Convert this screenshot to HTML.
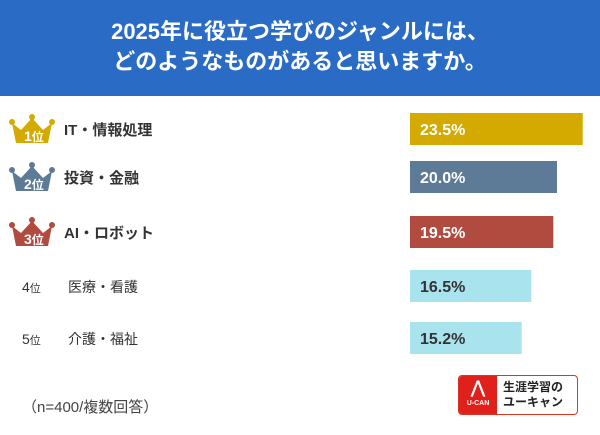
<!DOCTYPE html>
<html><head><meta charset="utf-8"><style>
body{margin:0;width:600px;height:435px;background:#fff;font-family:"Liberation Sans","Noto Sans CJK JP",sans-serif;overflow:hidden;position:relative}
.hdr{position:absolute;left:0;top:0;width:600px;height:96px;background:#2a6bc6;color:#fff;font-weight:bold;font-size:22px;text-align:center;line-height:30px;padding-top:17px;box-sizing:border-box}
.lbl{position:absolute;font-size:15px;color:#333;font-weight:bold}
.lbl.n{font-weight:normal;font-size:14px}
.rk{position:absolute;font-size:13px;color:#333}
.note{position:absolute;left:22px;top:396px;font-size:15px;color:#444}
.logo{position:absolute;left:458px;top:375px;width:120px;height:40px;border:1.5px solid #d32;border-radius:4px;box-sizing:border-box;overflow:hidden}
</style></head><body>
<div class="hdr">2025年に役立つ学びのジャンルには、<br>どのようなものがあると思いますか。</div>
<svg id="chart" width="600" height="435" style="position:absolute;left:0;top:0"></svg>
<div class="note">（n=400/複数回答）</div>
<div class="logo">
<div style="position:absolute;left:0;top:0;width:38px;height:40px;background:#e0201b;color:#fff;font-size:7px;font-weight:bold;text-align:center">
<div style="font-size:17px;line-height:24px">⋀</div>U-CAN</div>
<div style="position:absolute;left:44px;top:4px;font-size:12px;font-weight:bold;color:#222;line-height:15px">生涯学習の<br>ユーキャン</div>
</div>
<script>
const categories=["IT・情報処理","投資・金融","AI・ロボット","医療・看護","介護・福祉"];
const values=[23.5,20.0,19.5,16.5,15.2];
const valueLabels=["23.5%","20.0%","19.5%","16.5%","15.2%"];
const ranks=["1","2","3","4","5"];
const colors=["#d4aa00","#5d7a96","#b24b3f","#a9e3ee","#a9e3ee"];
const rowY=[113,161,216,270,322];
const svg=document.getElementById('chart');
const NS="http://www.w3.org/2000/svg";
const x0=410,scale=7.35,bh=32;
function xw(v){return v*scale;}
values.forEach((v,i)=>{
 const r=document.createElementNS(NS,'rect');
 r.setAttribute('x',x0);r.setAttribute('y',rowY[i]);r.setAttribute('width',xw(v));r.setAttribute('height',bh);r.setAttribute('fill',colors[i]);
 
 
 svg.appendChild(r);
 const t=document.createElementNS(NS,'text');
 t.setAttribute('x',x0+10);t.setAttribute('y',rowY[i]+22);t.setAttribute('font-size','16');t.setAttribute('font-weight','bold');
 t.setAttribute('fill',i<3?'#fff':'#333');t.textContent=valueLabels[i];
 
 
 svg.appendChild(t);
 const cy=rowY[i]+bh/2;
 if(i<3){
  const g=document.createElementNS(NS,'g');
  
  
  const p=document.createElementNS(NS,'path');
  const bx=12,by=cy-14;
  p.setAttribute('d',`M${bx} ${by+8} L${bx+9} ${by+15} L${bx+20} ${by+3} L${bx+31} ${by+15} L${bx+40} ${by+8} L${bx+36} ${by+28} L${bx+4} ${by+28} Z`);
  p.setAttribute('fill',colors[i]);g.appendChild(p);
  [[bx,by+7],[bx+20,by+2],[bx+40,by+7]].forEach(c=>{const ci=document.createElementNS(NS,'circle');ci.setAttribute('cx',c[0]);ci.setAttribute('cy',c[1]);ci.setAttribute('r',3);ci.setAttribute('fill',colors[i]);g.appendChild(ci);});
  const tt=document.createElementNS(NS,'text');tt.setAttribute('x',bx+12);tt.setAttribute('y',by+26);tt.setAttribute('fill','#fff');tt.setAttribute('font-size','12');tt.setAttribute('font-weight','bold');
  tt.innerHTML=`<tspan font-size="14">${ranks[i]}</tspan>位`;g.appendChild(tt);
  svg.appendChild(g);
 }else{
  const tt=document.createElementNS(NS,'text');tt.setAttribute('x',22);tt.setAttribute('y',cy+6);tt.setAttribute('fill','#333');tt.setAttribute('font-size','11');
  tt.innerHTML=`<tspan font-size="14">${ranks[i]}</tspan>位`;
  
  
  svg.appendChild(tt);
 }
 const l=document.createElementNS(NS,'text');
 l.setAttribute('x',i<3?64:68);l.setAttribute('y',cy+6);l.setAttribute('fill','#333');
 l.setAttribute('font-size',i<3?'15':'14');if(i<3)l.setAttribute('font-weight','bold');
 l.textContent=categories[i];
 
 
 svg.appendChild(l);
});
</script>
</body></html>
